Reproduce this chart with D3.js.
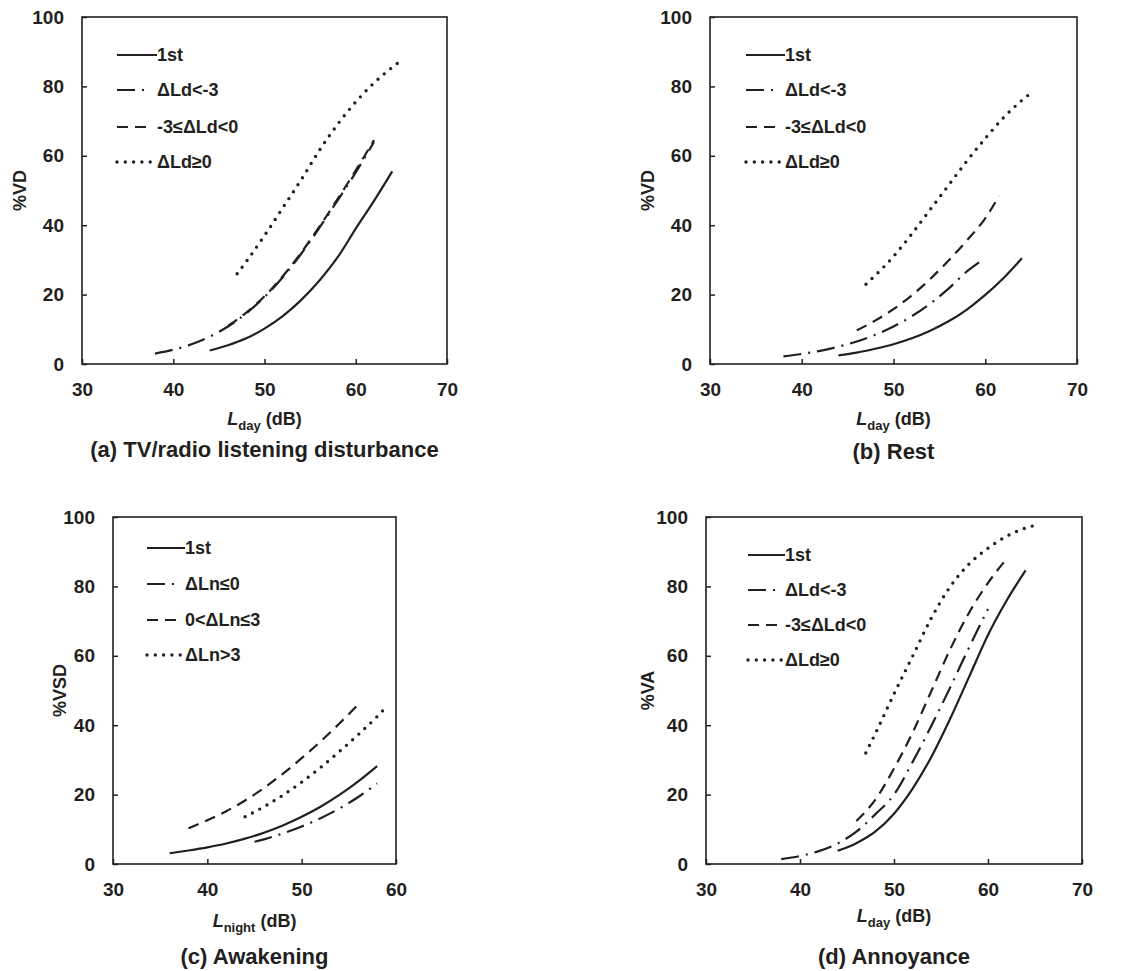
<!DOCTYPE html>
<html>
<head>
<meta charset="utf-8">
<script src="https://cdnjs.cloudflare.com/ajax/libs/d3/7.8.5/d3.min.js"></script>
<style>
body{margin:0;background:#fff;}
text{font-family:Arial,"Liberation Sans",sans-serif;font-weight:bold;fill:#231f20;}
</style>
</head>
<body>
<svg id="fig"></svg>
<script>
// tick values
var yTicks = [0,20,40,60,80,100];
var xTicksDay = [30,40,50,60,70];
var xTicksNight = [30,40,50,60];

// legend labels
var labelsDay = ["1st","\u0394Ld<-3","-3\u2264\u0394Ld<0","\u0394Ld\u22650"];
var labelsNight = ["1st","\u0394Ln\u22640","0<\u0394Ln\u22643","\u0394Ln>3"];

// (a) TV/radio listening disturbance  [Lday, %VD]
var tvFirst = [[44,3.9],[46,5.4],[48,7.4],[50,10.2],[52,13.8],[54,18.4],[56,24],[58,30.7],[60,39],[62,47],[64,55.5]];
var tvLow = [[38,3],[40,4.1],[42,5.7],[44,7.9],[46,10.8],[48,14.6],[50,19.3],[52,25],[54,31.7],[56,39.2],[58,47.1],[60,55.2],[62,64]];
var tvMid = [[46,11],[48,14.8],[50,19.5],[52,25.3],[54,32],[56,39.5],[58,47.5],[60,55.8],[62,64.5]];
var tvHigh = [[47,26],[48,29.5],[50,37],[52,45],[54,53],[56,61.5],[58,69],[60,75.5],[62,81],[64,85.5],[65,87.5]];

// (b) Rest  [Lday, %VD]
var restFirst = [[44,2.5],[46,3.3],[48,4.4],[50,5.7],[52,7.4],[54,9.6],[56,12.3],[58,15.7],[60,19.9],[62,24.8],[64,30.5]];
var restLow = [[38,2.2],[40,2.9],[42,3.8],[44,5],[46,6.5],[48,8.4],[50,10.8],[52,13.8],[54,17.4],[56,21.7],[58,26.7],[59.7,30]];
var restMid = [[46,9.7],[48,12.5],[50,15.8],[52,19.8],[54,24.5],[56,29.8],[58,35.6],[60,42],[61.5,48.4]];
var restHigh = [[47,23],[48,25.5],[50,31],[52,37.5],[54,44.5],[56,51.5],[58,58.5],[60,65],[62,71],[64,76],[64.7,77.5]];

// (c) Awakening  [Lnight, %VSD]
var wakeFirst = [[36,3.1],[38,3.9],[40,4.8],[42,5.9],[44,7.3],[46,9],[48,11.1],[50,13.6],[52,16.5],[54,19.9],[56,23.8],[58,28.2]];
var wakeLow = [[45,6.4],[46,7.1],[48,8.8],[50,10.8],[52,13.2],[54,16],[56,19.3],[58,23.2]];
var wakeMid = [[38,10.3],[40,12.6],[42,15.2],[44,18.3],[46,21.9],[48,26],[50,30.5],[52,35.3],[54,40.5],[56,46]];
var wakeHigh = [[44,13.6],[46,16.5],[48,19.8],[50,23.6],[52,27.8],[54,32.4],[56,37.3],[58,42.5],[58.7,44.5]];

// (d) Annoyance  [Lday, %VA]
var annFirst = [[44,3.8],[46,6],[48,9.3],[50,14.5],[52,21.8],[54,31],[56,42],[58,54],[60,66],[62,76],[64,84.6]];
var annLow = [[38,1.4],[40,2.3],[42,3.7],[44,5.9],[46,9.3],[48,14.3],[50,20],[52,29.5],[54,40],[56,51],[58,62.5],[60,73.5]];
var annMid = [[46,12.4],[48,18.5],[50,27.5],[52,38],[54,50],[56,62],[58,72.5],[60,81],[62,88]];
var annHigh = [[47,32],[48,37.5],[50,49],[52,60],[54,71],[56,80],[58,86.5],[60,91],[62,94.5],[64,96.8],[65,97.6]];

var ink = "#231f20";

// line look for each of the 4 groups
var styles = [
    {dash:null, width:2.2, cap:"butt", len:40},
    {dash:"18,7,2,7", width:2.2, cap:"butt", len:34},
    {dash:"11,7", width:2.2, cap:"butt", len:36},
    {dash:"0,8.3", width:3.4, cap:"round", len:34}
];

var panels = [
    {box:{left:82,right:447,top:17,bottom:364}, xDomain:[30,70], xTicks:xTicksDay,
     series:[tvFirst,tvLow,tvMid,tvHigh], labels:labelsDay,
     legend:{x:117,textX:157,rows:[55,90,127,162]},
     yTitle:"%VD", yTitleX:20, xSub:"day", xTitleY:425,
     caption:"(a) TV/radio listening disturbance", captionY:457},
    {box:{left:710,right:1077,top:17,bottom:364}, xDomain:[30,70], xTicks:xTicksDay,
     series:[restFirst,restLow,restMid,restHigh], labels:labelsDay,
     legend:{x:746,textX:785,rows:[55,90,127,162]},
     yTitle:"%VD", yTitleX:648, xSub:"day", xTitleY:425,
     caption:"(b) Rest", captionY:459},
    {box:{left:113,right:396,top:517,bottom:864}, xDomain:[30,60], xTicks:xTicksNight,
     series:[wakeFirst,wakeLow,wakeMid,wakeHigh], labels:labelsNight,
     legend:{x:147,textX:185,rows:[548,584,620,655]},
     yTitle:"%VSD", yTitleX:60, xSub:"night", xTitleY:927,
     caption:"(c) Awakening", captionY:964},
    {box:{left:706,right:1082,top:517,bottom:864}, xDomain:[30,70], xTicks:xTicksDay,
     series:[annFirst,annLow,annMid,annHigh], labels:labelsDay,
     legend:{x:748,textX:785,rows:[555,590,625,660]},
     yTitle:"%VA", yTitleX:648, xSub:"day", xTitleY:922,
     caption:"(d) Annoyance", captionY:964}
];

var svg = d3.select("#fig")
    .attr("width",1146)
    .attr("height",971);

var drawPanel = function(p)
{
    var b = p.box;
    var xScale = d3.scaleLinear().domain(p.xDomain).range([b.left,b.right]);
    var yScale = d3.scaleLinear().domain([0,100]).range([b.bottom,b.top]);

    var g = svg.append("g");

    //axes with inward ticks
    var xAxis = d3.axisBottom(xScale).tickValues(p.xTicks)
        .tickSizeInner(-5).tickSizeOuter(0).tickPadding(19);
    var yAxis = d3.axisLeft(yScale).tickValues(yTicks)
        .tickSizeInner(-5).tickSizeOuter(0).tickPadding(18);

    g.append("g")
        .attr("transform","translate(0,"+b.bottom+")")
        .call(xAxis);
    g.append("g")
        .attr("transform","translate("+b.left+",0)")
        .call(yAxis);

    g.selectAll(".tick line").attr("stroke",ink).attr("stroke-width",1.5);
    g.selectAll(".domain").remove();
    g.selectAll(".tick text")
        .attr("font-size",19)
        .attr("font-family","Arial, 'Liberation Sans', sans-serif")
        .attr("font-weight","bold")
        .attr("fill",ink);

    //frame
    g.append("rect")
        .attr("x",b.left).attr("y",b.top)
        .attr("width",b.right-b.left).attr("height",b.bottom-b.top)
        .attr("fill","none").attr("stroke",ink).attr("stroke-width",1.6);

    //curves
    var line = d3.line()
        .x(function(d){ return xScale(d[0]); })
        .y(function(d){ return yScale(d[1]); })
        .curve(d3.curveMonotoneX);

    p.series.forEach(function(s,i)
    {
        var st = styles[i];
        g.append("path")
            .datum(s)
            .attr("d",line)
            .attr("fill","none")
            .attr("stroke",ink)
            .attr("stroke-width",st.width)
            .attr("stroke-linecap",st.cap)
            .attr("stroke-dasharray",st.dash);
    });

    //legend
    p.labels.forEach(function(lab,i)
    {
        var st = styles[i];
        var y = p.legend.rows[i];
        g.append("line")
            .attr("x1",p.legend.x).attr("x2",p.legend.x+Math.min(st.len,p.legend.textX-p.legend.x))
            .attr("y1",y).attr("y2",y)
            .attr("stroke",ink)
            .attr("stroke-width",st.width)
            .attr("stroke-linecap",st.cap)
            .attr("stroke-dasharray",st.dash);
        g.append("text")
            .attr("x",p.legend.textX)
            .attr("y",y)
            .attr("dy","0.36em")
            .attr("font-size",18)
            .text(lab);
    });

    var cx = (b.left+b.right)/2;

    //x title with subscript
    var xt = g.append("text")
        .attr("x",cx)
        .attr("y",p.xTitleY)
        .attr("text-anchor","middle")
        .attr("font-size",18);
    xt.append("tspan").attr("font-style","italic").text("L");
    xt.append("tspan").attr("font-size",13).attr("dy",5).text(p.xSub);
    xt.append("tspan").attr("dy",-5).text(" (dB)");

    //y title
    g.append("text")
        .attr("transform","translate("+p.yTitleX+","+((b.top+b.bottom)/2)+") rotate(-90)")
        .attr("text-anchor","middle")
        .attr("dy","0.36em")
        .attr("font-size",18)
        .text(p.yTitle);

    //caption
    g.append("text")
        .attr("x",cx)
        .attr("y",p.captionY)
        .attr("text-anchor","middle")
        .attr("font-size",22)
        .text(p.caption);
}

panels.forEach(drawPanel);
</script>
</body>
</html>
